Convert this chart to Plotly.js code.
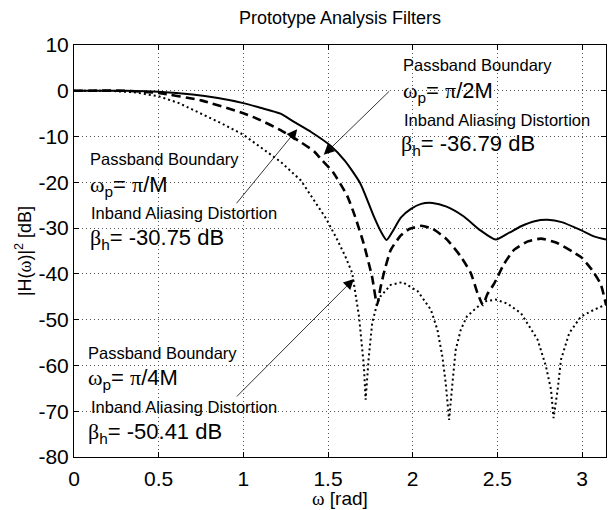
<!DOCTYPE html>
<html>
<head>
<meta charset="utf-8">
<script src="https://cdn.plot.ly/plotly-3.0.1.min.js"></script>
<style>html,body{margin:0;padding:0;background:#fff;}#chart{width:614px;height:510px;}</style>
</head>
<body>
<div id="chart"></div>
<script>
// ---- data ----
const solidX = [0, 0.3, 0.5, 0.7, 0.85, 1.0, 1.1, 1.22, 1.3, 1.4, 1.515, 1.6, 1.69, 1.77, 1.81, 1.846, 1.88, 1.93, 1.99, 2.05, 2.117, 2.2, 2.3, 2.4, 2.49, 2.57, 2.64, 2.72, 2.797, 2.88, 2.99, 3.07, 3.1416];
const solidY = [0, 0, -0.2, -0.8, -1.6, -2.7, -3.7, -5.0, -6.8, -9.0, -12.0, -15.3, -20.2, -27.4, -30.6, -32.6, -30.8, -27.7, -25.8, -24.7, -24.5, -25.3, -27.4, -30.5, -32.5, -31.0, -29.6, -28.5, -28.2, -28.7, -30.4, -31.8, -32.5];

const dashX = [0, 0.3, 0.5, 0.75, 1.0, 1.1, 1.22, 1.33, 1.42, 1.46, 1.53, 1.614, 1.66, 1.71, 1.76, 1.79, 1.81, 1.83, 1.87, 1.93, 1.98, 2.05, 2.12, 2.2, 2.28, 2.343, 2.383, 2.415, 2.44, 2.48, 2.54, 2.6, 2.68, 2.757, 2.85, 2.95, 3.0, 3.06, 3.11, 3.1416];
const dashY = [0, 0, -0.5, -2.1, -4.9, -6.4, -8.6, -11.0, -13.3, -15.0, -17.8, -23.0, -27.5, -33.3, -40.6, -46.8, -43.0, -39.8, -34.8, -31.6, -30.2, -29.5, -30.2, -32.4, -36.0, -39.8, -44.2, -46.8, -44.5, -42.2, -37.8, -34.7, -32.9, -32.3, -33.2, -35.3, -36.5, -39.2, -42.2, -46.7];

const dotX = [0, 0.2, 0.35, 0.5, 0.62, 0.75, 0.87, 1.0, 1.1, 1.22, 1.34, 1.416, 1.49, 1.554, 1.6, 1.643, 1.683, 1.712, 1.722, 1.74, 1.761, 1.79, 1.81, 1.87, 1.94, 2.03, 2.107, 2.146, 2.175, 2.195, 2.215, 2.235, 2.254, 2.284, 2.32, 2.38, 2.43, 2.49, 2.56, 2.64, 2.738, 2.787, 2.817, 2.832, 2.856, 2.876, 2.925, 2.994, 3.073, 3.1416];
const dotY = [0, 0, -0.3, -1.2, -2.7, -4.9, -7.1, -9.6, -12.2, -15.5, -19.6, -23.8, -28.0, -32.5, -36.0, -39.8, -49.3, -60.2, -67.5, -58.5, -50.7, -46.5, -44.9, -42.4, -41.8, -43.8, -47.8, -52.2, -58.0, -63.8, -71.9, -63.8, -56.6, -52.2, -49.3, -47.3, -46.0, -45.6, -46.5, -48.6, -54.4, -60.2, -65.3, -71.5, -65.3, -58.7, -52.9, -49.3, -47.8, -46.7];

const xTickVals = [0, 0.5, 1, 1.5, 2, 2.5, 3];
const xTickText = ['0', '0.5', '1', '1.5', '2', '2.5', '3'];
const yTickVals = [10, 0, -10, -20, -30, -40, -50, -60, -70, -80];
const yTickText = ['10', '0', '-10', '-20', '-30', '-40', '-50', '-60', '-70', '-80'];

const titleText = 'Prototype Analysis Filters';
const xTitle = '<span style="font-family:Liberation Serif">ω</span> [rad]';
const yTitle = '|H(<span style="font-family:Liberation Serif">ω</span>)|<sup>2</sup> [dB]';

const SERIF = s => '<span style="font-family:Liberation Serif">' + s + '</span>';
// label groups
const labelX = [0.083, 0.083, 0.089, 0.083, 1.929, 1.929, 1.935, 1.917, 0.071, 0.071, 0.089, 0.071];
const labelY = [-15.0, -20.8, -26.6, -32.3, 5.6, -0.2, -6.3, -11.8, -57.3, -63.0, -69.0, -74.7];
const labelText = [
  'Passband Boundary', SERIF('ω') + '<sub>p</sub>= ' + SERIF('π') + '/M', 'Inband Aliasing Distortion', SERIF('β') + '<sub>h</sub>= -30.75 dB',
  'Passband Boundary', SERIF('ω') + '<sub>p</sub>= ' + SERIF('π') + '/2M', 'Inband Aliasing Distortion', SERIF('β') + '<sub>h</sub>= -36.79 dB',
  'Passband Boundary', SERIF('ω') + '<sub>p</sub>= ' + SERIF('π') + '/4M', 'Inband Aliasing Distortion', SERIF('β') + '<sub>h</sub>= -50.41 dB'
];
const labelBig = [false, true, false, true, false, true, false, true, false, true, false, true];

// arrows: head (x,y) and tail (ax,ay) in data units
const arrowX = [1.318, 1.475, 1.653];
const arrowY = [-8.4, -14.0, -41.1];
const arrowAX = [0.953, 1.870, 0.953];
const arrowAY = [-24.9, 0.2, -67.1];

const FONT = 'Liberation Sans, Arial, Helvetica, sans-serif';

const traces = [
  {x: solidX, y: solidY, mode: 'lines', line: {color: '#000', width: 2, shape: 'spline', smoothing: 0.6}},
  {x: dashX, y: dashY, mode: 'lines', line: {color: '#000', width: 2.6, dash: '9px,5px', shape: 'spline', smoothing: 0.5}},
  {x: dotX, y: dotY, mode: 'lines', line: {color: '#000', width: 2, dash: '2px,3px', shape: 'linear'}}
];

const annotations = [];
for (let i = 0; i < labelText.length; i++) {
  annotations.push({
    x: labelX[i], y: labelY[i], xref: 'x', yref: 'y', xanchor: 'left', yanchor: 'middle',
    text: labelText[i], showarrow: false,
    font: {family: FONT, size: labelBig[i] ? 22 : 16.5, color: '#000'}
  });
}
for (let i = 0; i < arrowX.length; i++) {
  annotations.push({
    x: arrowX[i], y: arrowY[i], xref: 'x', yref: 'y',
    ax: arrowAX[i], ay: arrowAY[i], axref: 'x', ayref: 'y',
    text: '', showarrow: true, arrowhead: 2, arrowsize: 2.6, arrowwidth: 0.8, arrowcolor: '#000'
  });
}
// x-axis title placed as a paper annotation below the tick labels
annotations.push({
  x: 0.5, y: -0.1, xref: 'paper', yref: 'paper', xanchor: 'center', yanchor: 'middle',
  text: xTitle, showarrow: false, font: {family: FONT, size: 19, color: '#000'}
});

const axisCommon = {
  showline: true, linecolor: '#000', linewidth: 1, mirror: 'allticks',
  ticks: 'inside', ticklen: 5, tickcolor: '#000', tickwidth: 1,
  showgrid: true, gridcolor: '#555', gridwidth: 1, griddash: '1px,3px',
  zeroline: false, tickfont: {family: FONT, size: 21, color: '#000'}
};

const layout = {
  width: 614, height: 510,
  margin: {l: 74, r: 8, t: 45, b: 53},
  paper_bgcolor: '#fff', plot_bgcolor: '#fff',
  showlegend: false,
  font: {family: FONT, color: '#000'},
  title: {text: titleText, font: {family: FONT, size: 18, color: '#000'}, x: 0.5538, xanchor: 'center', y: 0.966, yanchor: 'middle', yref: 'container'},
  xaxis: Object.assign({}, axisCommon, {
    range: [0, Math.PI], tickvals: xTickVals, ticktext: xTickText, ticklabelstandoff: 3
  }),
  yaxis: Object.assign({}, axisCommon, {
    range: [-80, 10], tickvals: yTickVals, ticktext: yTickText,
    title: {text: yTitle, font: {family: FONT, size: 18, color: '#000'}, standoff: 2}
  }),
  annotations: annotations
};

Plotly.newPlot('chart', traces, layout, {displayModeBar: false, staticPlot: true});
</script>
</body>
</html>
